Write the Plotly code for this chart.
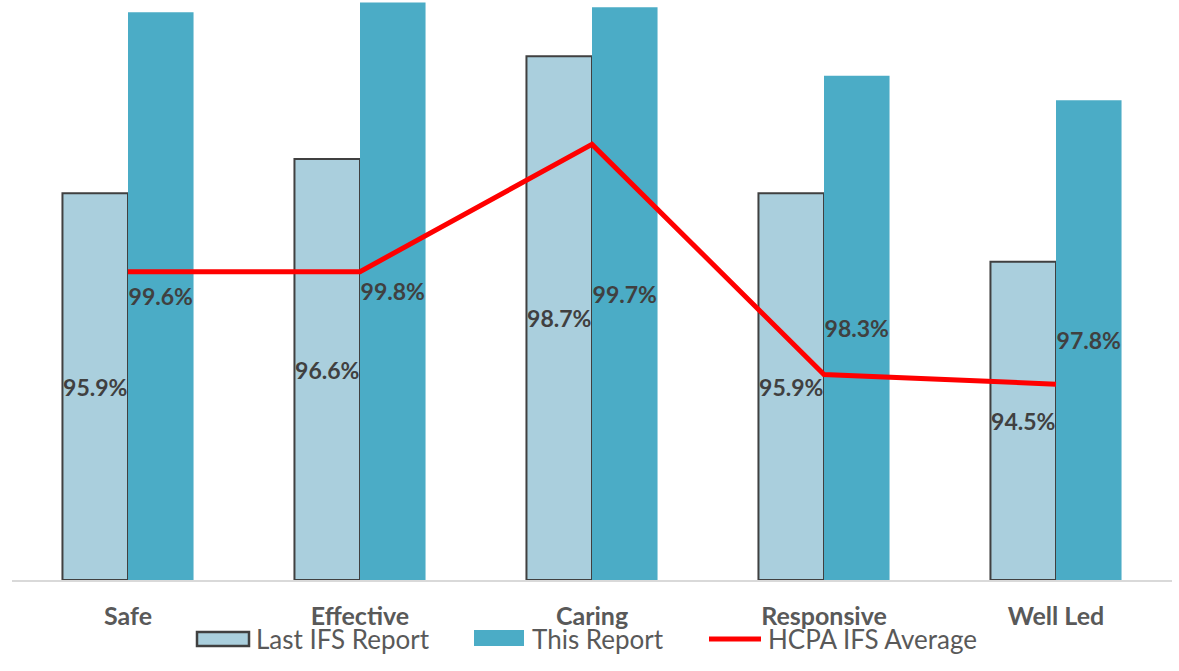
import plotly.graph_objects as go

categories = ["Safe", "Effective", "Caring", "Responsive", "Well Led"]
last_ifs = [95.9, 96.6, 98.7, 95.9, 94.5]
this_report = [99.6, 99.8, 99.7, 98.3, 97.8]
hcpa_avg = [94.3, 94.3, 96.9, 92.2, 92.0]

series_names = ["Last IFS Report", "This Report", "HCPA IFS Average"]

# value axis starts at 88%, so bars are drawn up from that base
Y_MIN, Y_MAX = 88, 99.85

W, H = 1179, 671
M_L, M_R, M_T, M_B = 12, 7, 0, 91
PLOT_W = W - M_L - M_R
PLOT_H = H - M_T - M_B

FONT = "Lato, 'Open Sans', sans-serif"
LABEL_FONT = dict(family=FONT, size=23, color="#404040", weight="bold")

LAST_COLOR = "#AACFDD"
OUTLINE = "#404040"
THIS_COLOR = "#4BACC6"
AVG_COLOR = "#FF0000"


def px_x(x):
    return (x - M_L) / PLOT_W


def px_y(y):
    return (M_T + PLOT_H - y) / PLOT_H


def bar_trace(name, values, marker):
    return go.Bar(
        name=name,
        x=categories,
        y=[v - Y_MIN for v in values],
        base=Y_MIN,
        marker=marker,
        text=[f"{v:.1f}%" for v in values],
        textposition="inside",
        insidetextanchor="middle",
        constraintext="none",
        textangle=0,
        textfont=LABEL_FONT,
        cliponaxis=False,
    )


fig = go.Figure()

fig.add_trace(bar_trace(
    series_names[0], last_ifs,
    dict(color=LAST_COLOR, line=dict(color=OUTLINE, width=2)),
))
fig.add_trace(bar_trace(
    series_names[1], this_report,
    dict(color=THIS_COLOR, line=dict(width=0)),
))
fig.add_trace(go.Scatter(
    name=series_names[2],
    x=categories,
    y=hcpa_avg,
    mode="lines",
    line=dict(color=AVG_COLOR, width=5),
))

# Legend row below the category labels, drawn as shapes + text
legend_y = 639
shapes = [
    dict(type="rect", xref="paper", yref="paper",
         x0=px_x(197), x1=px_x(249), y0=px_y(646), y1=px_y(632),
         fillcolor=LAST_COLOR, line=dict(color=OUTLINE, width=2.5)),
    dict(type="rect", xref="paper", yref="paper",
         x0=px_x(474), x1=px_x(524), y0=px_y(646), y1=px_y(630),
         fillcolor=THIS_COLOR, line=dict(width=0)),
    dict(type="line", xref="paper", yref="paper",
         x0=px_x(709), x1=px_x(761), y0=px_y(legend_y), y1=px_y(legend_y),
         line=dict(color=AVG_COLOR, width=5)),
]
annotations = [
    dict(xref="paper", yref="paper", x=px_x(tx), y=px_y(legend_y),
         xanchor="left", yanchor="middle", showarrow=False, text=name,
         font=dict(family=FONT, size=26, color="#595959"))
    for tx, name in zip([254, 530, 766], series_names)
]

fig.update_layout(
    width=W,
    height=H,
    margin=dict(l=M_L, r=M_R, t=M_T, b=M_B),
    paper_bgcolor="white",
    plot_bgcolor="white",
    barmode="group",
    bargap=0.435,
    bargroupgap=0,
    showlegend=False,
    shapes=shapes,
    annotations=annotations,
    xaxis=dict(
        showline=True,
        linecolor="#D9D9D9",
        linewidth=2,
        showgrid=False,
        ticks="",
        ticklabelstandoff=13,
        tickfont=dict(family=FONT, size=25, color="#595959", weight="bold"),
    ),
    yaxis=dict(
        range=[Y_MIN, Y_MAX],
        visible=False,
        showgrid=False,
        zeroline=False,
    ),
)

fig.write_html("out.html")
